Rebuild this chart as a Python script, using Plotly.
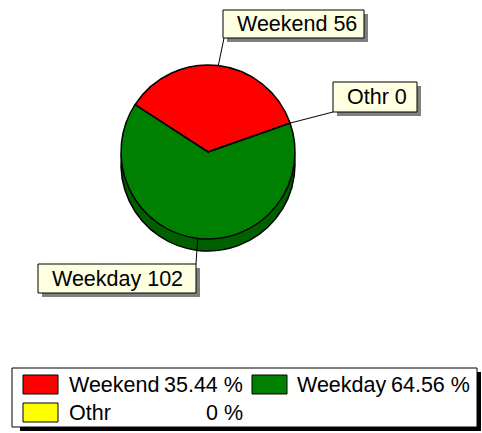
import math
import plotly.graph_objects as go

# ---- data ----
labels = ["Weekend", "Weekday", "Othr"]
values = [56, 102, 0]
colors = ["#FF0000", "#008000", "#FFFF00"]
side_colors = ["#A00000", "#006000", "#A0A000"]

W, H = 482, 433
FONT = dict(family="Arial, Liberation Sans, sans-serif", size=21.5, color="#000000")


def px(x):
    return x / W


def py(y):
    return 1 - y / H


CX, CY, R, DEPTH = 208, 152, 87, 12
ROT = -57  # first slice's clockwise-most edge sits here; slices run counterclockwise


def dom(cx, cy, r):
    return dict(x=[px(cx - r), px(cx + r)], y=[py(cy + r), py(cy - r)])


fig = go.Figure()
# side (depth) of the pie
fig.add_trace(go.Pie(labels=labels, values=values, sort=False, direction="counterclockwise",
                     rotation=ROT, textinfo="none", hoverinfo="skip", showlegend=False,
                     marker=dict(colors=side_colors, line=dict(color="black", width=1.5)),
                     domain=dom(CX, CY + DEPTH, R)))
# top face
fig.add_trace(go.Pie(labels=labels, values=values, sort=False, direction="counterclockwise",
                     rotation=ROT, textinfo="none", showlegend=False,
                     marker=dict(colors=colors, line=dict(color="black", width=1.5)),
                     domain=dom(CX, CY, R)))

shapes = []
annotations = []

# ---- callout labels ----
boxes = {"Weekend": (223, 10, 364, 38), "Othr": (333, 82, 417, 112), "Weekday": (38, 264, 196, 293)}
anchors = {"Weekend": (224, 38), "Othr": (333, 112), "Weekday": (196, 264)}

total = sum(values)
start = ROT + values[0] / total * 360  # counterclockwise start angle
cum = 0
for lab, v in zip(labels, values):
    mid = math.radians(start - (cum + v / 2) / total * 360)
    cum += v
    tx, ty = CX + R * math.sin(mid), CY - R * math.cos(mid)
    x0, y0, x1, y1 = boxes[lab]
    ax, ay = anchors[lab]
    shapes.append(dict(type="line", xref="paper", yref="paper", x0=px(tx), y0=py(ty),
                       x1=px(ax), y1=py(ay), line=dict(color="black", width=1)))
    shapes.append(dict(type="rect", xref="paper", yref="paper", x0=px(x0 + 4), y0=py(y1 + 4),
                       x1=px(x1 + 4), y1=py(y0 + 4), fillcolor="#808080", line=dict(width=0)))
    shapes.append(dict(type="rect", xref="paper", yref="paper", x0=px(x0), y0=py(y1),
                       x1=px(x1), y1=py(y0), fillcolor="#FFFFE1", line=dict(color="black", width=1)))
    annotations.append(dict(x=px(x0 + 12), y=py((y0 + y1) / 2), xref="paper", yref="paper",
                            text=f"{lab} {v}", showarrow=False, xanchor="left", yanchor="middle",
                            font=FONT))

# ---- legend ----
shapes.append(dict(type="rect", xref="paper", yref="paper", x0=px(20), y0=py(431), x1=px(481), y1=py(372),
                   fillcolor="black", line=dict(width=0)))
shapes.append(dict(type="rect", xref="paper", yref="paper", x0=px(12), y0=py(427), x1=px(477), y1=py(368),
                   fillcolor="white", line=dict(color="black", width=1)))

legend_pos = {"Weekend": (23, 375, 67, 245), "Weekday": (252, 375, 295, 472), "Othr": (23, 403, 67, 245)}
for lab, v, c in zip(labels, values, colors):
    sx, sy, tx, pend = legend_pos[lab]
    shapes.append(dict(type="rect", xref="paper", yref="paper", x0=px(sx), y0=py(sy + 19),
                       x1=px(sx + 35), y1=py(sy), fillcolor=c, line=dict(color="black", width=1)))
    pct = f"{v / total * 100:.2f}".rstrip("0").rstrip(".")
    annotations.append(dict(x=px(tx), y=py(sy + 9.5), xref="paper", yref="paper", text=lab,
                            showarrow=False, xanchor="left", yanchor="middle", font=FONT))
    annotations.append(dict(x=px(pend), y=py(sy + 9.5), xref="paper", yref="paper", text=f"{pct} %",
                            showarrow=False, xanchor="right", yanchor="middle", font=FONT))

fig.update_layout(width=W, height=H, autosize=False, margin=dict(l=0, r=0, t=0, b=0),
                  paper_bgcolor="white", plot_bgcolor="white", showlegend=False,
                  shapes=shapes, annotations=annotations)
fig.write_html("out.html", config={"displayModeBar": False},
               post_script="document.body.style.margin='0px';")
